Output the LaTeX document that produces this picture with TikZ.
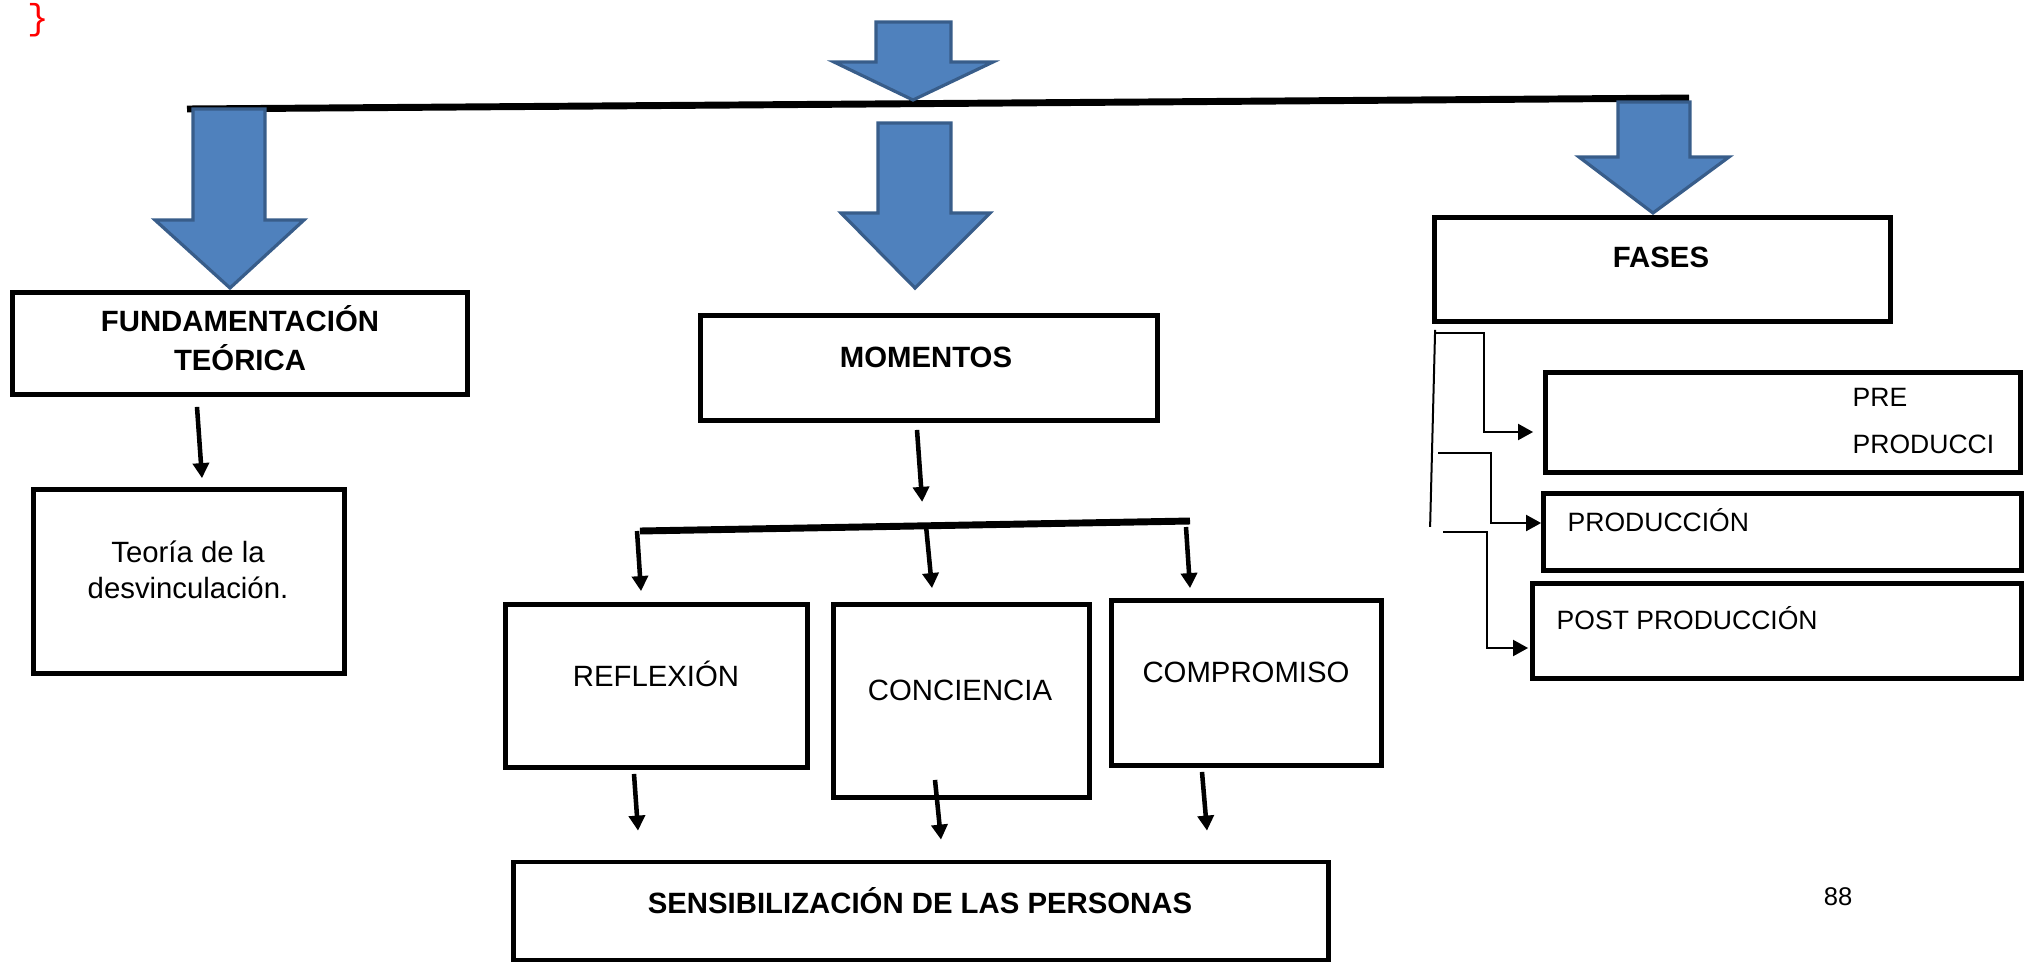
\documentclass[tikz,border=0pt]{standalone}
\usepackage{fontspec}
\setmainfont{Liberation Sans}
\setmonofont{Liberation Mono}
\usetikzlibrary{arrows.meta,calc}

\begin{document}
\begin{tikzpicture}[x=0.75pt,y=0.75pt,yscale=-1,xscale=1,
  blockarrow/.style={fill={rgb,255:red,79;green,129;blue,189},draw={rgb,255:red,56;green,93;blue,138},line width=2.4pt,line join=miter},
  bar/.style={line width=5.2pt},
  box/.style={draw,line width=3.6pt,rectangle,inner sep=0pt},
  arr/.style={line width=3.4pt,-{Triangle[length=11.25pt,width=12pt]}},
  thinarr/.style={line width=1.5pt,-{Triangle[length=11.25pt,width=12pt]}},
  bigtxt/.style={font=\fontsize{22}{29.25}\selectfont\bfseries,align=center},
  txt/.style={font=\fontsize{22}{27}\selectfont,align=center},
  sidetxt/.style={font=\fontsize{19.9}{35.2}\selectfont,align=left,anchor=west}]
\useasboundingbox (0,0) rectangle (2027,965);

%Text: red brace
\node [font=\fontsize{27}{30}\ttfamily,text=red] (brace) at (38,20) {\}};

%Straight Lines: top bar
\coordinate (b1l) at (187,109);
\coordinate (b1r) at (1689,98);
\draw [bar] (b1l) -- (b1r);

%Shape: Down Arrow (top)
\draw [blockarrow] (876,22) -- (951,22) -- (951,62) -- (993,62) -- (913,100) -- (834,62) -- (876,62) -- cycle ;
%Shape: Down Arrow (left)
\draw [blockarrow] (193,109) -- (265,109) -- (265,220) -- (304,220) -- (230,288) -- (155,220) -- (193,220) -- cycle ;
%Shape: Down Arrow (middle)
\draw [blockarrow] (878,123) -- (951,123) -- (951,213) -- (990,213) -- (915,288) -- (841,213) -- (878,213) -- cycle ;
%Shape: Down Arrow (right)
\draw [blockarrow] (1618,102) -- (1690,102) -- (1690,157) -- (1729,157) -- (1653,213) -- (1579,157) -- (1618,157) -- cycle ;

%Shape: Rectangle
\node [box,minimum width=341.3pt,minimum height=76.5pt] (fund) at (240,343.5) {};
\node [bigtxt] (fundtxt) at (240,338) {FUNDAMENTACIÓN\\TEÓRICA};
%Shape: Rectangle
\node [box,minimum width=233.3pt,minimum height=138pt] (teoria) at (189,581.5) {};
\node [txt] (teotxt) at (188,570) {Teoría de la\\desvinculación.};
%Shape: Rectangle
\node [box,minimum width=342.8pt,minimum height=78.8pt] (mom) at (929,368) {};
\node [bigtxt] (momtxt) at (926,357) {MOMENTOS};
%Shape: Rectangle
\node [box,minimum width=342pt,minimum height=78pt] (fases) at (1662.5,269.5) {};
\node [bigtxt] (fastxt) at (1661,257) {FASES};

%Shape: Rectangle
\node [box,minimum width=226.5pt,minimum height=122.3pt] (refl) at (656.5,686) {};
\node [txt] (refltxt) at (656,674) {REFLEXIÓN};
%Shape: Rectangle
\node [box,minimum width=192pt,minimum height=144.8pt] (conc) at (961.5,701) {};
\node [txt] (conctxt) at (960,690) {CONCIENCIA};
%Shape: Rectangle
\node [box,minimum width=202.5pt,minimum height=123.8pt] (comp) at (1246.5,683) {};
\node [txt] (comptxt) at (1246,672) {COMPROMISO};
%Shape: Rectangle
\node [box,minimum width=611.3pt,minimum height=73.5pt] (sens) at (921,911) {};
\node [bigtxt] (senstxt) at (920,901) {SENSIBILIZACIÓN DE LAS PERSONAS};

%Shape: Rectangle
\node [box,minimum width=356.3pt,minimum height=75pt] (pre) at (1783,422.5) {};
\node [sidetxt] (pretxt) at (1848,421) {PRE\\PRODUCCI};
%Shape: Rectangle
\node [box,minimum width=358.5pt,minimum height=57.8pt] (prod) at (1782.5,532) {};
\node [sidetxt] (prodtxt) at (1563,520) {PRODUCCIÓN};
%Shape: Rectangle
\node [box,minimum width=366.8pt,minimum height=71.3pt] (post) at (1777,631) {};
\node [sidetxt] (posttxt) at (1552,618) {POST PRODUCCIÓN};

%Text: page number
\node [font=\fontsize{19.2}{23}\selectfont] (pagenum) at (1838,897) {88};

%Straight Lines: second bar
\coordinate (b2l) at (640,531);
\coordinate (b2r) at (1190,521);
\draw [bar] (b2l) -- (b2r);

%Straight Lines with arrows
\draw [arr] ($(fund.south)+(-43,10)$) -- ($(teoria.north)+(13,-9)$);
\draw [arr] ($(mom.south)+(-12,7)$) -- ($(b2l)!0.513!(b2r)+(0,-24)$);
\draw [arr] ($(b2l)+(-3,0)$) -- ($(refl.north)+(-15.5,-11)$);
\draw [arr] ($(b2l)!0.52!(b2r)$) -- ($(conc.north)+(-29.5,-14)$);
\draw [arr] ($(b2r)+(-4,6)$) -- ($(comp.north)+(-56.5,-10)$);
\draw [arr] ($(refl.south)+(-22.5,4)$) -- ($(sens.north)+(-283,-29)$);
\draw [arr] ($(conc.south)+(-26.5,-20)$) -- ($(sens.north)+(20,-20)$);
\draw [arr] ($(comp.south)+(-44.5,4)$) -- ($(sens.north)+(286,-29)$);

%Connectors: fases
\draw [line width=1.5pt] ($(fases.south west)+(3,6)$) -- ($(fases.south west)+(-2,203)$);
\draw [thinarr] ($(fases.south west)+(3,9)$) -| ($(pre.west)+(-59,9.5)$) -- ($(pre.west)+(-10,9.5)$);
\draw [thinarr] ($(fases.south west)+(6,129)$) -| ($(prod.west)+(-50,-9)$) -- ($(prod.west)+(0,-9)$);
\draw [thinarr] ($(fases.south west)+(11,208)$) -| ($(post.west)+(-43,17)$) -- ($(post.west)+(-2,17)$);
\end{tikzpicture}
\end{document}
